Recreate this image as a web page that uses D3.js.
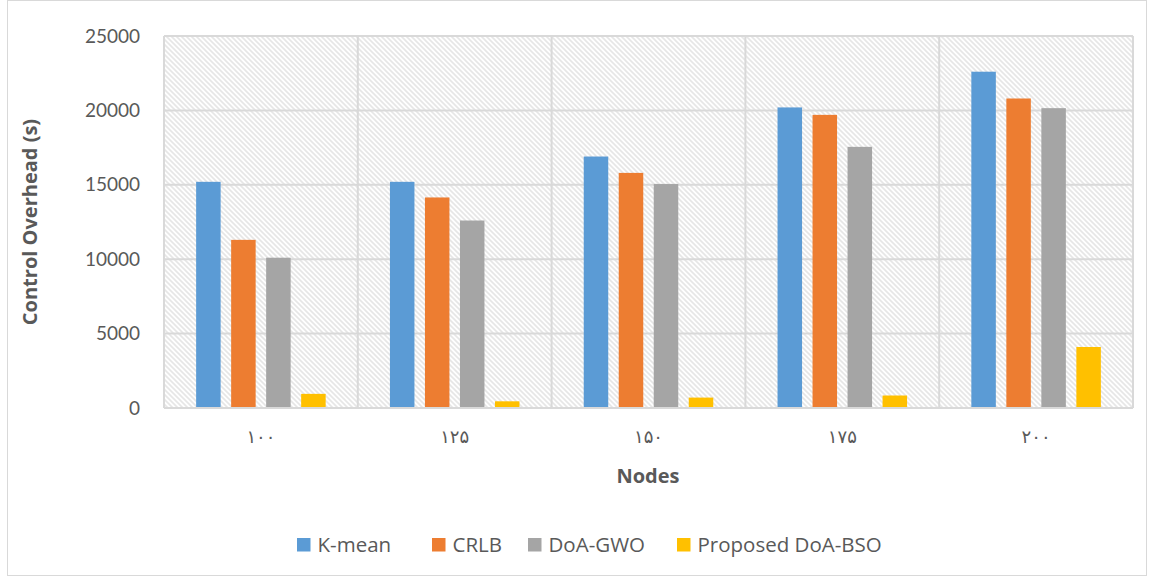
<!DOCTYPE html>
<html>
<head>
<meta charset="utf-8">
<script src="https://cdn.jsdelivr.net/npm/d3@7"></script>
<style>
  html, body { margin: 0; padding: 0; background: #fff; }
  svg { display: block; }
  text { font-family: "Open Sans", Lato, sans-serif; fill: #595959; }
</style>
</head>
<body>
<svg id="chart" width="1155" height="578"></svg>
<script>
// Node counts (Persian digits as shown on the axis)
const categories = ["۱۰۰", "۱۲۵", "۱۵۰", "۱۷۵", "۲۰۰"];
const seriesNames = ["K-mean", "CRLB", "DoA-GWO", "Proposed DoA-BSO"];
const kMean    = [15200, 15200, 16900, 20200, 22600];
const crlb     = [11300, 14150, 15800, 19700, 20800];
const doaGwo   = [10100, 12600, 15050, 17550, 20150];
const doaBso   = [950, 450, 700, 840, 4100];
const yTicks   = [0, 5000, 10000, 15000, 20000, 25000];
const colors   = ["#5b9bd5", "#ed7d31", "#a5a5a5", "#ffc000"];

const seriesValues = [kMean, crlb, doaGwo, doaBso];
const rows = categories.map((c, i) => ({
  cat: c,
  vals: seriesNames.map((s, j) => ({ name: s, value: seriesValues[j][i], color: colors[j] }))
}));

const svg = d3.select("#chart");
const plot = { left: 164, right: 1133, top: 36, bottom: 408 };

// outer chart frame
svg.append("rect")
  .attr("x", 7.5).attr("y", 0.5).attr("width", 1139).attr("height", 575)
  .attr("fill", "#fff").attr("stroke", "#d9d9d9").attr("stroke-width", 1);

// diagonal hatch fill for the plot area
const defs = svg.append("defs");
const pat = defs.append("pattern")
  .attr("id", "hatch").attr("patternUnits", "userSpaceOnUse")
  .attr("width", 5).attr("height", 5);
pat.append("rect").attr("width", 5).attr("height", 5).attr("fill", "#fff");
pat.append("path")
  .attr("d", "M-1,-1 L6,6 M-1,4 L1,6 M4,-1 L6,1")
  .attr("stroke", "#e6e6e6").attr("stroke-width", 1.6);

const x0 = d3.scaleBand().domain(categories).range([plot.left, plot.right]).paddingInner(0).paddingOuter(0);
const x1 = d3.scaleBand().domain(seriesNames).range([0, x0.bandwidth()]).paddingInner(0.3).paddingOuter(0.918);
const y = d3.scaleLinear().domain([0, 25000]).range([plot.bottom, plot.top]);

svg.append("rect")
  .attr("x", plot.left).attr("y", plot.top)
  .attr("width", plot.right - plot.left).attr("height", plot.bottom - plot.top)
  .attr("fill", "url(#hatch)");

// horizontal gridlines
svg.append("g").selectAll("line").data(yTicks).join("line")
  .attr("x1", plot.left).attr("x2", plot.right)
  .attr("y1", d => y(d)).attr("y2", d => y(d))
  .attr("stroke", "#d9d9d9").attr("stroke-width", 2);

// vertical gridlines at category boundaries
const bounds = categories.map(c => x0(c)).concat([plot.right]);
svg.append("g").selectAll("line").data(bounds).join("line")
  .attr("x1", d => d).attr("x2", d => d)
  .attr("y1", plot.top).attr("y2", plot.bottom)
  .attr("stroke", "#d9d9d9").attr("stroke-width", 2);

// bars
const groups = svg.append("g").selectAll("g").data(rows).join("g")
  .attr("transform", d => `translate(${x0(d.cat)},0)`);
groups.selectAll("rect").data(d => d.vals).join("rect")
  .attr("x", d => x1(d.name))
  .attr("width", x1.bandwidth())
  .attr("y", d => y(d.value))
  .attr("height", d => y(0) - y(d.value))
  .attr("fill", d => d.color);

// axis baseline
svg.append("line")
  .attr("x1", plot.left).attr("x2", plot.right)
  .attr("y1", plot.bottom).attr("y2", plot.bottom)
  .attr("stroke", "#d9d9d9").attr("stroke-width", 2);

// y axis
const yAxis = d3.axisLeft(y).tickValues(yTicks).tickSize(0).tickPadding(24).tickFormat(d3.format("d"));
const gy = svg.append("g").attr("transform", `translate(${plot.left},0)`).call(yAxis);
gy.select(".domain").remove();
gy.selectAll("text").attr("font-size", 19).attr("fill", "#595959")
  .style("font-family", "Lato, sans-serif");

// x axis
const xAxis = d3.axisBottom(x0).tickSize(0).tickPadding(22);
const gx = svg.append("g").attr("transform", `translate(0,${plot.bottom})`).call(xAxis);
gx.select(".domain").remove();
gx.selectAll("text").attr("font-size", 18).attr("fill", "#595959")
  .style("font-family", "'DejaVu Sans', sans-serif").style("letter-spacing", "3px");

// axis titles
svg.append("text")
  .attr("x", 648).attr("y", 483).attr("text-anchor", "middle")
  .attr("font-size", 20).attr("font-weight", "bold").text("Nodes");
svg.append("text")
  .attr("transform", `translate(37,${(plot.top + plot.bottom) / 2}) rotate(-90)`)
  .attr("text-anchor", "middle")
  .attr("font-size", 20).attr("font-weight", "bold").text("Control Overhead (s)");

// legend
const legendX = [297, 432, 528, 677];
const lg = svg.append("g").selectAll("g").data(seriesNames).join("g")
  .attr("transform", (d, i) => `translate(${legendX[i]},538)`);
lg.append("rect").attr("width", 13.5).attr("height", 13.5).attr("fill", (d, i) => colors[i]);
lg.append("text").attr("x", 20.5).attr("y", 14).attr("font-size", 20.5).text(d => d);
</script>
</body>
</html>
